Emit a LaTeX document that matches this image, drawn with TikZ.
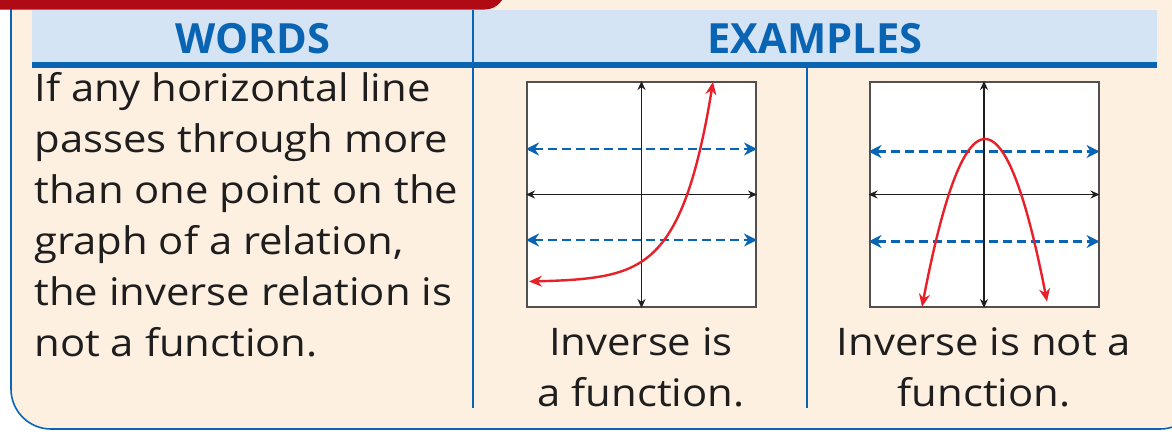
\documentclass[tikz,border=0pt]{standalone}
\usepackage{fontspec}
\setmainfont{Open Sans}
\newfontfamily\bodyfont[FakeStretch=1.1]{Open Sans}
\usepackage{xcolor}
\usepackage{tikz}
\usetikzlibrary{positioning, calc, arrows.meta}
\definecolor{cream}{RGB}{253, 240, 225}
\definecolor{headblue}{RGB}{212, 228, 244}
\definecolor{ruleblue}{RGB}{10, 100, 180}
\definecolor{tabred}{RGB}{176, 10, 20}
\definecolor{curvered}{RGB}{232, 32, 42}
\definecolor{framegray}{RGB}{80, 80, 80}
\definecolor{inkblack}{RGB}{30, 30, 30}

\tikzset{
    bodytext/.style={font=\bodyfont\fontsize{19}{25.5}\selectfont, text=inkblack, align=left, inner sep=0pt},
    heading/.style={font=\fontsize{20.8}{24}\selectfont\bfseries, text=ruleblue, inner sep=0pt},
    captiontext/.style={font=\bodyfont\fontsize{19}{25.5}\selectfont, text=inkblack, align=center, inner sep=0pt},
    graphbox/.style={draw=framegray, line width=1pt, fill=white, minimum width=114.5pt, minimum height=112.5pt, inner sep=0pt},
    axis/.style={inkblack, line width=0.7pt, {Stealth[length=4.5pt,width=4pt]}-{Stealth[length=4.5pt,width=4pt]}},
    hline/.style={ruleblue, line width=1.3pt, dash pattern=on 4.5pt off 2.5pt, {Stealth[length=6.5pt,width=6.5pt]}-{Stealth[length=6.5pt,width=6.5pt]}},
    curve/.style={curvered, line width=1.2pt, {Stealth[length=6.5pt,width=5.5pt]}-{Stealth[length=6.5pt,width=5.5pt]}}
}

\begin{document}
\begin{tikzpicture}[x=0.5pt, y=-0.5pt]
    \useasboundingbox (0,0) rectangle (1172,434);
    % Background and frame
    \fill[white] (0,0) rectangle (1172,434);
    \draw[ruleblue, line width=0.8pt, fill=cream, rounded corners=20] (11,-40) -- (11,429) -- (1200,429) -- (1200,-40) -- cycle;
    \fill[tabred, rounded corners=10] (-20,-30) -- (505,-30) -- (505,9.5) -- (-20,9.5) -- cycle;
    % Header band
    \fill[headblue] (32,10) rectangle (1157,62);
    \draw[ruleblue, line width=3pt] (32,65) -- (1157,65);
    \draw[ruleblue, line width=1pt] (473,10) -- (473,408);
    \draw[ruleblue, line width=1pt] (807,65) -- (807,408);
    \node[heading, anchor=base] (words) at (253,53) {WORDS};
    \node[heading, anchor=base] (examples) at (815,53) {EXAMPLES};
    % Words column
    \node[bodytext, anchor=base west] (rule) at (34,356) {If any horizontal line\\passes through more\\than one point on the\\graph of a relation,\\the inverse relation is\\not a function.};
    % Example 1
    \node[graphbox] (g1) at (641.5,194.5) {};
    \draw[hline] ($(g1.west)+(0,-45.5)$) -- ($(g1.east)+(0,-45.5)$);
    \draw[hline] ($(g1.west)+(0,45.5)$) -- ($(g1.east)+(0,45.5)$);
    \draw[axis] (g1.west) -- (g1.east);
    \draw[axis] (g1.north) -- (g1.south);
    \begin{scope}[shift={(641,195)}]
        \draw[curve, smooth, samples=60, domain=-112:72, variable=\u] plot ({\u}, {87-20*exp(0.032*\u)});
    \end{scope}
    \node[captiontext, anchor=base] (cap1) at (641,406) {Inverse is\\a function.};
    % Example 2
    \node[graphbox] (g2) at (984,194.5) {};
    \draw[hline] ($(g2.west)+(0,-43)$) -- ($(g2.east)+(0,-43)$);
    \draw[hline] ($(g2.west)+(0,47)$) -- ($(g2.east)+(0,47)$);
    \draw[axis] (g2.west) -- (g2.east);
    \draw[axis] (g2.north) -- (g2.south);
    \begin{scope}[shift={(985,196)}]
        \draw[curve, smooth, samples=60, domain=-63:62, variable=\u] plot ({\u}, {-57+0.0423*(\u)^2});
    \end{scope}
    \node[captiontext, anchor=base] (cap2) at (984,406) {Inverse is not a\\function.};
\end{tikzpicture}
\end{document}
